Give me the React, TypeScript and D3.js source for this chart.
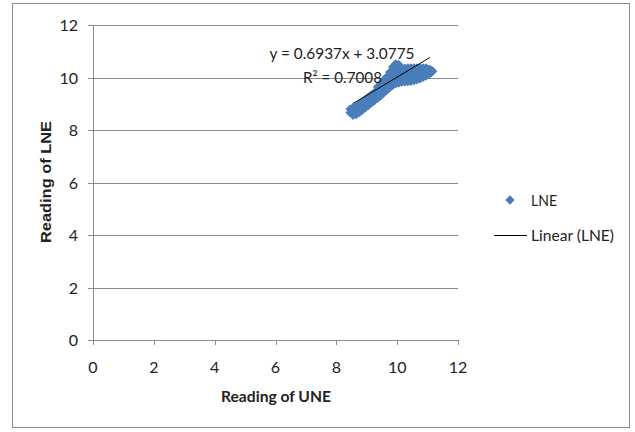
import React from "react";
import * as d3 from "d3";

// ---- data ----
const xTicks = [0, 2, 4, 6, 8, 10, 12];
const yTicks = [0, 2, 4, 6, 8, 10, 12];
const une = [
  8.45, 8.45,
  8.55, 8.55, 8.55,
  8.65, 8.65, 8.65,
  8.75, 8.75, 8.75,
  8.85, 8.85, 8.85,
  8.95, 8.95, 8.95,
  9.05, 9.05, 9.05,
  9.15, 9.15, 9.15,
  9.25, 9.25, 9.25,
  9.35, 9.35, 9.35, 9.35,
  9.45, 9.45, 9.45, 9.45,
  9.55, 9.55, 9.55, 9.55,
  9.65, 9.65, 9.65, 9.65,
  9.75, 9.75, 9.75, 9.75, 9.75,
  9.85, 9.85, 9.85, 9.85, 9.85,
  9.95, 9.95, 9.95, 9.95, 9.95,
  10.05, 10.05, 10.05, 10.05, 10.05,
  10.15, 10.15, 10.15, 10.15,
  10.25, 10.25, 10.25, 10.25,
  10.35, 10.35, 10.35, 10.35,
  10.45, 10.45, 10.45, 10.45,
  10.55, 10.55, 10.55, 10.55,
  10.65, 10.65, 10.65, 10.65,
  10.75, 10.75, 10.75, 10.75,
  10.85, 10.85, 10.85, 10.85,
  10.95, 10.95, 10.95, 10.95,
  11.05, 11.05, 11.05,
  11.12, 11.12,
  11.17,
];
const lne = [
  8.66, 8.8,
  8.56, 8.71, 8.86,
  8.58, 8.74, 8.9,
  8.66, 8.82, 8.98,
  8.75, 8.91, 9.07,
  8.84, 9.0, 9.16,
  8.93, 9.09, 9.25,
  9.02, 9.18, 9.34,
  9.11, 9.27, 9.43,
  9.2, 9.36, 9.52, 9.64,
  9.29, 9.45, 9.61, 9.76,
  9.4, 9.56, 9.72, 9.9,
  9.5, 9.66, 9.84, 10.02,
  9.6, 9.76, 9.92, 10.08, 10.2,
  9.7, 9.86, 10.04, 10.22, 10.4,
  9.76, 9.94, 10.12, 10.32, 10.52,
  9.78, 9.96, 10.14, 10.32, 10.5,
  9.82, 10.0, 10.18, 10.36,
  9.83, 10.0, 10.18, 10.36,
  9.84, 10.02, 10.2, 10.37,
  9.85, 10.03, 10.2, 10.37,
  9.88, 10.05, 10.22, 10.37,
  9.91, 10.08, 10.24, 10.37,
  9.95, 10.1, 10.25, 10.37,
  10.0, 10.14, 10.27, 10.37,
  10.05, 10.18, 10.3, 10.37,
  10.12, 10.22, 10.32,
  10.18, 10.28,
  10.24,
];
const slope = 0.6937;
const intercept = 3.0775;
const rSquared = 0.7008;
const trendRange = [8.56, 11.08];
const seriesName = "LNE";
const trendName = "Linear (LNE)";
const xTitle = "Reading of UNE";
const yTitle = "Reading of LNE";

const W = 635;
const H = 432;
const FONT = "Lato, 'Open Sans', sans-serif";
const GRID = "#8c8c8c";

export default function App() {
  const x = d3.scaleLinear().domain([0, 12]).range([93, 458]);
  const y = d3.scaleLinear().domain([0, 12]).range([340, 25]);
  const diamond = d3.symbol().type(d3.symbolSquare).size(42)() as string;
  const legendDiamond = d3.symbol().type(d3.symbolSquare).size(44)() as string;
  const pts = une.map((u, i) => [u, lne[i]]);
  const trend = d3
    .line<number>()
    .x((d) => x(d))
    .y((d) => y(slope * d + intercept))(trendRange) as string;

  return (
    <svg
      width={W}
      height={H}
      style={{ position: "absolute", left: 0, top: 0, background: "#fff" }}
    >
      <rect x={12.5} y={3.5} width={617} height={424} fill="#fff" stroke={GRID} strokeWidth={1} />
      {/* gridlines */}
      {yTicks.map((t) => (
        <line key={"g" + t} x1={88} x2={458} y1={Math.round(y(t)) + 0.5} y2={Math.round(y(t)) + 0.5} stroke={GRID} strokeWidth={1} />
      ))}
      {/* y axis */}
      <line x1={x(0) + 0.5} x2={x(0) + 0.5} y1={y(12)} y2={y(0)} stroke={GRID} />
      {/* x ticks */}
      {xTicks.map((t) => (
        <line key={"xt" + t} x1={Math.round(x(t)) + 0.5} x2={Math.round(x(t)) + 0.5} y1={y(0)} y2={y(0) + 5} stroke={GRID} />
      ))}
      {xTicks.map((t) => (
        <text key={"xl" + t} x={x(t)} y={372.5} textAnchor="middle" fontFamily={FONT} fontSize={16} fill="#222">
          {t}
        </text>
      ))}
      {yTicks.map((t) => (
        <text key={"yl" + t} x={78} y={y(t) + 6} textAnchor="end" fontFamily={FONT} fontSize={16} fill="#222">
          {t}
        </text>
      ))}
      {/* points */}
      {pts.map((p, i) => (
        <path key={"p" + i} d={diamond} transform={`translate(${x(p[0])},${y(p[1])}) rotate(45)`} fill="#4a7ebb" />
      ))}
      {/* trendline */}
      <path d={trend} fill="none" stroke="#000" strokeWidth={1} />
      {/* equation */}
      <text x={342} y={59} textAnchor="middle" fontFamily={FONT} fontSize={15} fill="#222" textLength={145} lengthAdjust="spacingAndGlyphs">
        {`y = ${slope}x + ${intercept}`}
      </text>
      <text x={303} y={83} fontFamily={FONT} fontSize={15} fill="#222" textLength={79} lengthAdjust="spacingAndGlyphs">
        R² = {rSquared.toFixed(4)}
      </text>
      {/* axis titles */}
      <text x={276} y={402} textAnchor="middle" fontFamily={FONT} fontWeight="bold" fontSize={15} fill="#222" textLength={110} lengthAdjust="spacingAndGlyphs">
        {xTitle}
      </text>
      <text transform={`translate(51,182) rotate(-90)`} textAnchor="middle" fontFamily="'Liberation Sans', Arial, sans-serif" fontWeight="bold" fontSize={14} fill="#222" textLength={122} lengthAdjust="spacingAndGlyphs">
        {yTitle}
      </text>
      {/* legend */}
      <path d={legendDiamond} transform="translate(510,200) rotate(45)" fill="#4a7ebb" />
      <text x={531} y={205.5} fontFamily={FONT} fontSize={15} fill="#222" textLength={26} lengthAdjust="spacingAndGlyphs">
        {seriesName}
      </text>
      <line x1={494} x2={527} y1={235.5} y2={235.5} stroke="#000" />
      <text x={531} y={240.5} fontFamily={FONT} fontSize={15} fill="#222" textLength={83} lengthAdjust="spacingAndGlyphs">
        {trendName}
      </text>
    </svg>
  );
}
